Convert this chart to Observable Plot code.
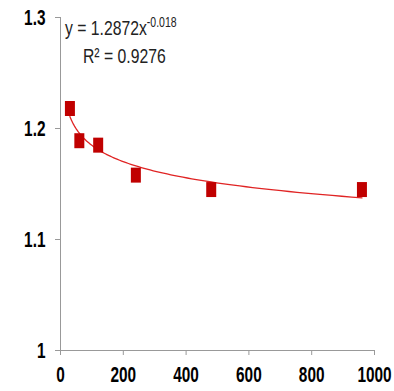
<!DOCTYPE html>
<html><head><meta charset="utf-8">
<script src="https://cdn.jsdelivr.net/npm/d3@7"></script>
<script src="https://cdn.jsdelivr.net/npm/@observablehq/plot@0.6"></script>
<style>
body{margin:0;background:#fff;}
#chart svg{font-family:"Liberation Sans",Arial,sans-serif;}
#chart g[aria-label$="tick"] path{stroke:#999;}
</style>
</head><body><div id="chart"></div>
<script>
const xValues = [30, 60, 120, 240, 480, 960];
const yValues = [1.218, 1.189, 1.185, 1.158, 1.145, 1.145];
const xTicks = [0, 200, 400, 600, 800, 1000];
const yTicks = [1, 1.1, 1.2, 1.3];
const fitA = 1.2872, fitB = -0.018;
const eqText = "y = 1.2872x", eqExp = "-0.018", r2Text = "R² = 0.9276";

const points = xValues.map((x, i) => ({x, y: yValues[i]}));
const xmin = d3.min(xValues), xmax = d3.max(xValues);
const fit = d3.range(0, 101).map(i => {
  const x = xmin * Math.pow(xmax / xmin, i / 100);
  return {x, y: fitA * Math.pow(x, fitB)};
});

const chart = Plot.plot({
  width: 394, height: 391,
  marginLeft: 60, marginRight: 20, marginTop: 17, marginBottom: 41,
  x: {domain: [0, 1000], ticks: xTicks},
  y: {domain: [1, 1.3], ticks: yTicks},
  marks: [
    Plot.ruleX([0], {stroke: "#999", strokeWidth: 1}),
    Plot.ruleY([1], {stroke: "#999", strokeWidth: 1}),
    Plot.axisX({ticks: xTicks, tickSize: 5, tickPadding: 11, fontSize: 22, fontWeight: "bold", tickFormat: d => String(d), label: null}),
    Plot.axisY({ticks: yTicks, tickSize: 5, tickPadding: 10, fontSize: 22, fontWeight: "bold", tickFormat: d => String(d), label: null}),
    Plot.line(fit, {x: "x", y: "y", stroke: "#e02424", strokeWidth: 1.3}),
    Plot.dot(points, {x: "x", y: "y", symbol: {draw(ctx){ ctx.rect(-5, -7.5, 10, 15); }}, r: 1, fill: "#c00000", stroke: "none"})
  ]
});
document.getElementById("chart").appendChild(chart);

// condense axis tick labels horizontally around their anchor
d3.select(chart).selectAll('g[aria-label="x-axis tick label"] text, g[aria-label="y-axis tick label"] text')
  .each(function(){
    const t = this.getAttribute("transform") || "";
    this.setAttribute("transform", t + " scale(0.7,1)");
  });

// equation text
const svg = d3.select(chart);
const t1 = svg.append("text").attr("transform", "translate(65,35) scale(0.75,1)")
  .attr("text-anchor", "start").attr("font-size", 21).attr("fill", "#222");
t1.append("tspan").text(eqText);
t1.append("tspan").attr("dy", -8).attr("font-size", 14).text(eqExp);
svg.append("text").attr("transform", "translate(83,63) scale(0.75,1)")
  .attr("text-anchor", "start").attr("font-size", 21).attr("fill", "#222").text(r2Text);
</script>
</body></html>
